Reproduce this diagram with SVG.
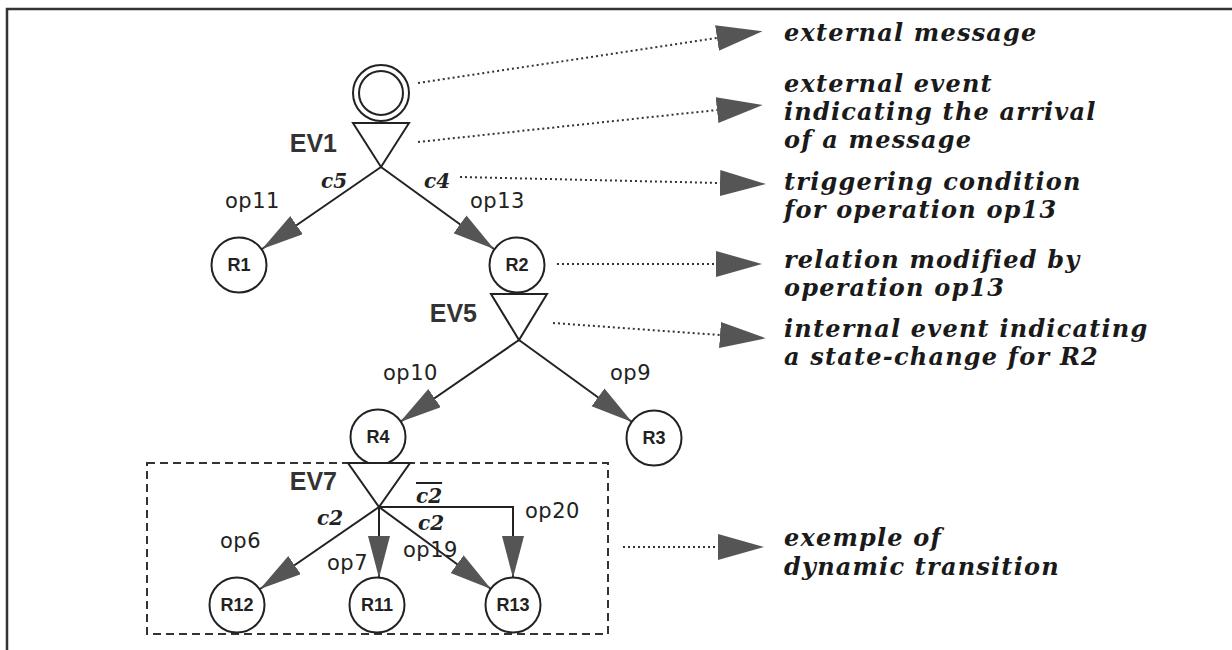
<svg xmlns="http://www.w3.org/2000/svg" width="1232" height="650" viewBox="0 0 1232 650">
<style>
.node{fill:#fff;stroke:#222;stroke-width:2}
.ev{fill:#fff;stroke:#222;stroke-width:2;stroke-linejoin:miter}
.rl{font-family:"Liberation Sans",Arial,sans-serif;font-weight:bold;font-size:18px;fill:#222;text-anchor:middle}
.evl{font-family:"Liberation Sans",Arial,sans-serif;font-weight:bold;font-size:25px;fill:#333;text-anchor:end}
.op{font-family:"DejaVu Sans",sans-serif;font-size:21px;fill:#222;letter-spacing:0.5px}
.cond{font-family:"DejaVu Serif",serif;font-style:italic;font-weight:bold;font-size:20px;fill:#222}
.ann{font-family:"DejaVu Serif",serif;font-style:italic;font-weight:bold;font-size:24px;fill:#1a1a1a;letter-spacing:1.2px}
.edge{fill:none;stroke:#222;stroke-width:2;marker-end:url(#ah)}
.dot{fill:none;stroke:#333;stroke-width:2;stroke-dasharray:2 3;marker-end:url(#bh)}
</style>
<defs>
<marker id="ah" markerUnits="userSpaceOnUse" markerWidth="44" markerHeight="24" refX="42" refY="11" orient="auto">
<path d="M0,0 L42,11 L0,22 z" fill="#555" stroke="none"/>
</marker>
<marker id="bh" markerUnits="userSpaceOnUse" markerWidth="48" markerHeight="26" refX="0" refY="13" orient="auto">
<path d="M0,0 L46,13 L0,26 z" fill="#555" stroke="none"/>
</marker>
</defs>
<rect width="1232" height="650" fill="#fff"/>
<path d="M7,650 V9 H1232" fill="none" stroke="#333" stroke-width="2.5"/>

<g id="box">
<rect x="147" y="463" width="461" height="171" fill="none" stroke="#333" stroke-width="2" stroke-dasharray="8 5"/>
</g>

<g id="connectors">
<path class="edge" d="M381,167 L262,249"/>
<path class="edge" d="M381,167 L494,249"/>
<path class="edge" d="M519,340 L400,422"/>
<path class="edge" d="M519,340 L632,422"/>
<path class="edge" d="M379,507 L260,589"/>
<path class="edge" d="M379,507 L379,578"/>
<path class="edge" d="M379,507 L491,589"/>
<path class="edge" d="M379,507 H513 V578"/>
<path class="dot" d="M418,83 L717,38"/>
<path class="dot" d="M418,142 L717,110"/>
<path class="dot" d="M460,177 L720,183"/>
<path class="dot" d="M557,264 L716,264"/>
<path class="dot" d="M553,323 L720,335"/>
<path class="dot" d="M623,547 L718,547"/>
</g>

<g id="msg">
<circle class="node" cx="381" cy="93" r="28"/>
<circle class="node" cx="381" cy="93" r="22"/>
</g>
<g id="EV1">
<polygon class="ev" points="353,123 409,123 381,167"/>
<text class="evl" x="337" y="152">EV1</text>
</g>
<g id="R1"><circle class="node" cx="239" cy="265" r="27.5"/><text class="rl" x="239" y="271">R1</text></g>
<g id="R2"><circle class="node" cx="517" cy="265" r="27.5"/><text class="rl" x="517" y="271">R2</text></g>
<g id="EV5">
<polygon class="ev" points="491,294 547,294 519,340"/>
<text class="evl" x="477" y="322">EV5</text>
</g>
<g id="R4"><circle class="node" cx="378" cy="437" r="27.5"/><text class="rl" x="378" y="443">R4</text></g>
<g id="R3"><circle class="node" cx="654" cy="438" r="27.5"/><text class="rl" x="654" y="444">R3</text></g>
<g id="EV7">
<polygon class="ev" points="348,463 410,463 379,507"/>
<text class="evl" x="337" y="490">EV7</text>
</g>
<g id="R12"><circle class="node" cx="237" cy="605" r="27.5"/><text class="rl" x="237" y="611">R12</text></g>
<g id="R11"><circle class="node" cx="377" cy="605" r="27.5"/><text class="rl" x="377" y="611">R11</text></g>
<g id="R13"><circle class="node" cx="513" cy="605" r="27.5"/><text class="rl" x="513" y="611">R13</text></g>

<g id="labels">
<text class="cond" x="321" y="188">c5</text>
<text class="cond" x="424" y="188">c4</text>
<text class="op" x="225" y="208">op11</text>
<text class="op" x="470" y="208">op13</text>
<text class="op" x="383" y="380">op10</text>
<text class="op" x="610" y="380">op9</text>
<text class="cond" x="416" y="503" text-decoration="overline">c2</text>
<text class="op" x="525" y="518">op20</text>
<text class="cond" x="317" y="525">c2</text>
<text class="cond" x="418" y="530">c2</text>
<text class="op" x="220" y="548">op6</text>
<text class="op" x="327" y="570">op7</text>
<text class="op" x="403" y="557">op19</text>
</g>

<g id="annotations">
<text class="ann" x="784" y="41">external message</text>
<text class="ann" x="784" y="92">external event</text>
<text class="ann" x="784" y="120">indicating the arrival</text>
<text class="ann" x="784" y="148">of a message</text>
<text class="ann" x="784" y="190">triggering condition</text>
<text class="ann" x="784" y="218">for operation op13</text>
<text class="ann" x="784" y="268">relation modified by</text>
<text class="ann" x="784" y="296">operation op13</text>
<text class="ann" x="784" y="337">internal event indicating</text>
<text class="ann" x="784" y="365">a state-change for R2</text>
<text class="ann" x="784" y="546">exemple of</text>
<text class="ann" x="784" y="575">dynamic transition</text>
</g>
</svg>
